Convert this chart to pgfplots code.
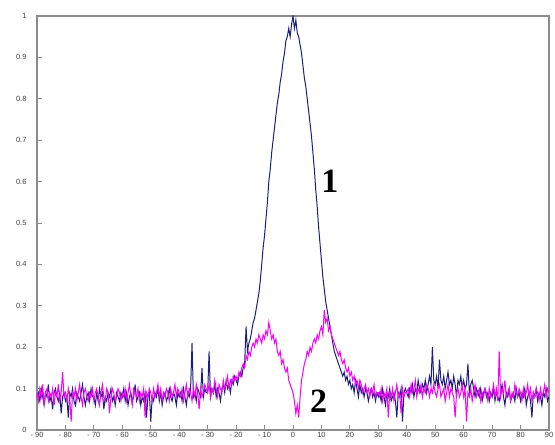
\documentclass[border=0pt]{standalone}
\usepackage{fontspec}
\setmainfont{Liberation Sans}
\newfontfamily\serifb{Liberation Serif}
\usepackage{pgfplots}
\pgfplotsset{compat=1.18}
\usetikzlibrary{calc}
\definecolor{navyc}{RGB}{30,30,125}
\definecolor{magc}{RGB}{250,0,250}
\definecolor{axgray}{RGB}{140,140,140}
\begin{document}
\begin{tikzpicture}
\begin{axis}[
  scale only axis, width=512pt, height=414pt,
  xmin=-90, xmax=90, ymin=0, ymax=1,
  axis line style={axgray, line width=1.2pt},
  tick style={axgray, line width=0.8pt},
  major tick length=5pt, tick align=inside,
  xtick pos=lower, ytick pos=left,
  xtick={-90,-80,-70,-60,-50,-40,-30,-20,-10,0,10,20,30,40,50,60,70,80,90},
  xticklabels={- 90,- 80,- 70,- 60,- 50,- 40,- 30,- 20,- 10,0,10,20,30,40,50,60,70,80,90},
  ytick={0,0.1,0.2,0.3,0.4,0.5,0.6,0.7,0.8,0.9,1},
  yticklabels={0,0.1,0.2,0.3,0.4,0.5,0.6,0.7,0.8,0.9,1},
  ticklabel style={font=\fontsize{7.5}{8}\selectfont, text=black!75},
  yticklabel style={xshift=-7pt},
  xticklabel style={yshift=1pt},
  clip=true,
]
\addplot[navyc, line width=1pt] table[row sep=\\, header=false, y index=0, x expr=\coordindex*0.5-90]{
0.08\\0.09\\0.07\\0.10\\0.08\\0.06\\0.09\\0.08\\0.11\\0.07\\0.08\\0.05\\0.09\\0.10\\0.08\\0.07\\0.09\\0.04\\0.08\\0.09\\
0.07\\0.08\\0.03\\0.09\\0.08\\0.10\\0.07\\0.06\\0.09\\0.08\\0.07\\0.09\\0.11\\0.08\\0.06\\0.08\\0.09\\0.07\\0.10\\0.08\\
0.08\\0.06\\0.09\\0.07\\0.10\\0.08\\0.09\\0.05\\0.08\\0.07\\0.09\\0.08\\0.10\\0.07\\0.08\\0.06\\0.09\\0.08\\0.07\\0.09\\
0.08\\0.10\\0.07\\0.09\\0.06\\0.08\\0.09\\0.07\\0.08\\0.11\\0.07\\0.08\\0.09\\0.06\\0.08\\0.07\\0.09\\0.03\\0.08\\0.09\\
0.02\\0.08\\0.07\\0.09\\0.08\\0.10\\0.07\\0.09\\0.06\\0.08\\0.09\\0.07\\0.08\\0.10\\0.08\\0.07\\0.09\\0.08\\0.06\\0.09\\
0.08\\0.09\\0.07\\0.10\\0.08\\0.06\\0.09\\0.08\\0.10\\0.21\\0.08\\0.09\\0.07\\0.10\\0.09\\0.08\\0.15\\0.08\\0.10\\0.09\\
0.09\\0.19\\0.08\\0.10\\0.09\\0.11\\0.08\\0.10\\0.09\\0.07\\0.10\\0.11\\0.09\\0.12\\0.10\\0.11\\0.09\\0.12\\0.11\\0.13\\
0.12\\0.11\\0.13\\0.14\\0.13\\0.15\\0.16\\0.25\\0.19\\0.21\\0.22\\0.24\\0.26\\0.27\\0.29\\0.31\\0.33\\0.36\\0.40\\0.44\\
0.47\\0.51\\0.55\\0.60\\0.63\\0.67\\0.70\\0.73\\0.76\\0.79\\0.81\\0.84\\0.86\\0.89\\0.91\\0.94\\0.95\\0.97\\0.95\\0.98\\
1.00\\0.97\\0.99\\0.96\\0.95\\0.93\\0.91\\0.88\\0.85\\0.83\\0.80\\0.77\\0.74\\0.71\\0.67\\0.63\\0.58\\0.54\\0.49\\0.45\\
0.41\\0.37\\0.34\\0.31\\0.29\\0.27\\0.25\\0.23\\0.21\\0.19\\0.18\\0.17\\0.16\\0.15\\0.14\\0.13\\0.14\\0.12\\0.13\\0.11\\
0.12\\0.10\\0.11\\0.09\\0.12\\0.10\\0.08\\0.11\\0.09\\0.10\\0.08\\0.10\\0.09\\0.07\\0.09\\0.10\\0.08\\0.09\\0.07\\0.09\\
0.08\\0.09\\0.07\\0.10\\0.08\\0.06\\0.09\\0.08\\0.10\\0.07\\0.08\\0.09\\0.07\\0.03\\0.09\\0.08\\0.10\\0.02\\0.09\\0.10\\
0.09\\0.08\\0.10\\0.09\\0.11\\0.08\\0.10\\0.09\\0.12\\0.10\\0.09\\0.11\\0.10\\0.12\\0.09\\0.11\\0.13\\0.11\\0.20\\0.12\\
0.11\\0.13\\0.10\\0.17\\0.12\\0.11\\0.13\\0.10\\0.12\\0.14\\0.11\\0.12\\0.10\\0.13\\0.11\\0.08\\0.12\\0.11\\0.13\\0.10\\
0.12\\0.10\\0.11\\0.16\\0.09\\0.11\\0.12\\0.10\\0.08\\0.10\\0.09\\0.08\\0.10\\0.07\\0.09\\0.10\\0.08\\0.09\\0.07\\0.09\\
0.08\\0.10\\0.07\\0.09\\0.08\\0.07\\0.09\\0.11\\0.08\\0.06\\0.09\\0.08\\0.10\\0.07\\0.08\\0.09\\0.07\\0.10\\0.08\\0.09\\
0.07\\0.09\\0.08\\0.10\\0.06\\0.08\\0.09\\0.07\\0.03\\0.09\\0.08\\0.10\\0.07\\0.09\\0.08\\0.06\\0.09\\0.08\\0.10\\0.07\\0.08\\
};
\addplot[magc, line width=1pt] table[row sep=\\, header=false, y index=0, x expr=\coordindex*0.5-90]{
0.09\\0.07\\0.10\\0.08\\0.11\\0.06\\0.09\\0.10\\0.07\\0.09\\0.08\\0.10\\0.06\\0.09\\0.08\\0.11\\0.07\\0.09\\0.14\\0.08\\
0.09\\0.07\\0.10\\0.08\\0.02\\0.09\\0.08\\0.10\\0.07\\0.09\\0.11\\0.08\\0.06\\0.09\\0.10\\0.08\\0.07\\0.09\\0.08\\0.10\\
0.07\\0.09\\0.10\\0.08\\0.06\\0.09\\0.11\\0.08\\0.07\\0.10\\0.09\\0.04\\0.08\\0.10\\0.09\\0.07\\0.08\\0.10\\0.09\\0.07\\
0.09\\0.08\\0.10\\0.07\\0.09\\0.11\\0.08\\0.06\\0.10\\0.09\\0.08\\0.10\\0.07\\0.09\\0.08\\0.10\\0.03\\0.09\\0.08\\0.10\\
0.09\\0.07\\0.10\\0.08\\0.09\\0.11\\0.08\\0.10\\0.07\\0.09\\0.08\\0.10\\0.09\\0.07\\0.10\\0.08\\0.09\\0.11\\0.08\\0.10\\
0.09\\0.08\\0.10\\0.07\\0.09\\0.11\\0.08\\0.10\\0.09\\0.07\\0.10\\0.08\\0.11\\0.09\\0.05\\0.10\\0.08\\0.09\\0.11\\0.10\\
0.09\\0.11\\0.08\\0.10\\0.09\\0.12\\0.10\\0.08\\0.11\\0.10\\0.09\\0.12\\0.10\\0.11\\0.13\\0.10\\0.12\\0.11\\0.13\\0.12\\
0.13\\0.12\\0.14\\0.13\\0.15\\0.16\\0.15\\0.18\\0.17\\0.19\\0.18\\0.20\\0.21\\0.20\\0.22\\0.21\\0.23\\0.22\\0.21\\0.23\\
0.22\\0.24\\0.23\\0.26\\0.24\\0.22\\0.23\\0.21\\0.22\\0.19\\0.18\\0.19\\0.16\\0.17\\0.15\\0.14\\0.15\\0.12\\0.11\\0.10\\
0.09\\0.07\\0.04\\0.06\\0.03\\0.08\\0.12\\0.14\\0.16\\0.17\\0.19\\0.18\\0.20\\0.19\\0.21\\0.22\\0.21\\0.23\\0.22\\0.24\\
0.25\\0.23\\0.29\\0.26\\0.27\\0.24\\0.25\\0.23\\0.22\\0.21\\0.20\\0.19\\0.18\\0.19\\0.17\\0.16\\0.17\\0.15\\0.14\\0.15\\
0.13\\0.14\\0.12\\0.13\\0.11\\0.12\\0.10\\0.12\\0.11\\0.09\\0.10\\0.11\\0.09\\0.10\\0.08\\0.10\\0.09\\0.11\\0.08\\0.09\\
0.09\\0.08\\0.10\\0.07\\0.09\\0.08\\0.10\\0.03\\0.09\\0.08\\0.10\\0.07\\0.09\\0.11\\0.08\\0.09\\0.04\\0.10\\0.08\\0.09\\
0.09\\0.10\\0.08\\0.11\\0.09\\0.10\\0.12\\0.08\\0.10\\0.09\\0.11\\0.08\\0.10\\0.09\\0.11\\0.10\\0.08\\0.10\\0.09\\0.11\\
0.09\\0.08\\0.10\\0.11\\0.08\\0.09\\0.10\\0.07\\0.09\\0.11\\0.08\\0.10\\0.09\\0.08\\0.03\\0.09\\0.10\\0.08\\0.09\\0.11\\
0.08\\0.10\\0.02\\0.09\\0.08\\0.10\\0.07\\0.09\\0.11\\0.08\\0.09\\0.10\\0.07\\0.09\\0.08\\0.10\\0.09\\0.07\\0.10\\0.08\\
0.09\\0.11\\0.08\\0.10\\0.07\\0.19\\0.08\\0.10\\0.09\\0.12\\0.08\\0.09\\0.10\\0.07\\0.09\\0.08\\0.11\\0.09\\0.08\\0.10\\
0.09\\0.07\\0.10\\0.08\\0.09\\0.11\\0.08\\0.10\\0.07\\0.09\\0.08\\0.10\\0.09\\0.07\\0.10\\0.08\\0.09\\0.11\\0.08\\0.10\\0.09\\
};
\node[font=\serifb\bfseries\fontsize{34}{34}\selectfont] at (axis cs:13,0.6) {1};
\node[font=\serifb\bfseries\fontsize{34}{34}\selectfont] at (axis cs:9,0.07) {2};
\coordinate (sw) at (rel axis cs:0,0);
\coordinate (ne) at (rel axis cs:1,1);
\end{axis}
\pgfresetboundingbox
\path ($(sw)+(-37pt,-14pt)$) rectangle ($(ne)+(6pt,16pt)$);
\end{tikzpicture}
\end{document}
